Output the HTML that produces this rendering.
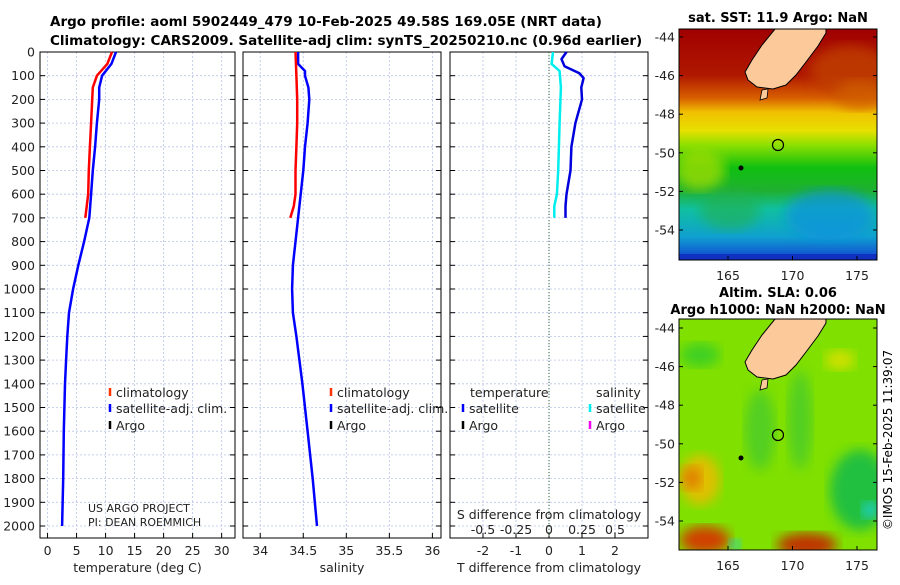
<!DOCTYPE html>
<html><head><meta charset="utf-8"><style>
body{margin:0;background:#fff;width:900px;height:580px;overflow:hidden;font-family:"Liberation Sans","DejaVu Sans",sans-serif}
svg text{font-family:"DejaVu Sans","Liberation Sans",sans-serif}
</style></head><body>
<svg id="c" width="900" height="580" xmlns="http://www.w3.org/2000/svg">
<defs>
<linearGradient id="sstg" x1="0" y1="0" x2="0" y2="1">
<stop offset="0" stop-color="#a00000"/><stop offset="0.2" stop-color="#b01800"/><stop offset="0.3" stop-color="#d86000"/>
<stop offset="0.36" stop-color="#f0c000"/><stop offset="0.44" stop-color="#e8e000"/><stop offset="0.5" stop-color="#90e000"/>
<stop offset="0.6" stop-color="#10c010"/><stop offset="0.7" stop-color="#20b030"/><stop offset="0.78" stop-color="#10c0a0"/>
<stop offset="0.9" stop-color="#10a0d0"/><stop offset="1" stop-color="#1040d0"/></linearGradient>
<filter id="bl"><feGaussianBlur stdDeviation="6"/></filter>
<clipPath id="m1"><rect x="679" y="29" width="198" height="231"/></clipPath>
<clipPath id="m2"><rect x="679" y="319" width="198" height="231"/></clipPath>
</defs>
<text x="50" y="26" font-size="13.5" font-weight="bold">Argo profile: aoml 5902449_479 10-Feb-2025 49.58S 169.05E (NRT data)</text>
<text x="50" y="45" font-size="13.5" font-weight="bold">Climatology: CARS2009. Satellite-adj clim: synTS_20250210.nc (0.96d earlier)</text>
<g id="panels"></g>
<!-- map 1 -->
<g>
<text x="778" y="22" font-size="13" font-weight="bold" text-anchor="middle">sat. SST: 11.9 Argo: NaN</text>
<g clip-path="url(#m1)">
<rect x="679" y="29" width="198" height="231" fill="url(#sstg)"/>
<ellipse cx="850" cy="70" rx="40" ry="25" fill="#c04000" filter="url(#bl)" opacity="0.8"/>
<ellipse cx="860" cy="95" rx="25" ry="15" fill="#d06000" filter="url(#bl)" opacity="0.7"/>
<ellipse cx="700" cy="170" rx="25" ry="20" fill="#b0e000" filter="url(#bl)" opacity="0.7"/>
<ellipse cx="830" cy="215" rx="45" ry="25" fill="#1090e0" filter="url(#bl)" opacity="0.7"/>
<ellipse cx="730" cy="210" rx="30" ry="20" fill="#20b050" filter="url(#bl)" opacity="0.6"/>
<rect x="679" y="254" width="198" height="6" fill="#1030c0"/>
<polygon points="775,29 826,29 826,33 818,46 806,62 796,75 786,85 773,89 757,87 748,80 745,72 752,60 762,45" fill="#fbc99a" stroke="#000" stroke-width="1"/>
<polygon points="762,90 768,89 767,98 760,100" fill="#fbc99a" stroke="#000" stroke-width="0.8"/>
<circle cx="778" cy="145" r="5.5" fill="none" stroke="#000" stroke-width="1.2"/>
<circle cx="741" cy="168" r="2.5" fill="#000"/>
</g>
<rect x="679" y="29" width="198" height="231" fill="none" stroke="#000"/>
<g id="m1ax"></g>
</g>
<!-- map 2 -->
<g>
<text x="778" y="297" font-size="13" font-weight="bold" text-anchor="middle">Altim. SLA: 0.06</text>
<text x="778" y="314" font-size="13" font-weight="bold" text-anchor="middle">Argo h1000: NaN h2000: NaN</text>
<g clip-path="url(#m2)">
<rect x="679" y="319" width="198" height="231" fill="#80e000"/>
<ellipse cx="700" cy="355" rx="20" ry="12" fill="#40d020" filter="url(#bl)"/>
<ellipse cx="760" cy="430" rx="15" ry="40" fill="#40c830" filter="url(#bl)" opacity="0.7"/>
<ellipse cx="800" cy="420" rx="12" ry="50" fill="#40c830" filter="url(#bl)" opacity="0.7"/>
<ellipse cx="860" cy="490" rx="30" ry="40" fill="#20c040" filter="url(#bl)"/>
<ellipse cx="870" cy="510" rx="8" ry="8" fill="#20d0d0" filter="url(#bl)"/>
<ellipse cx="700" cy="480" rx="20" ry="25" fill="#e0c000" filter="url(#bl)"/>
<ellipse cx="692" cy="478" rx="10" ry="12" fill="#e08000" filter="url(#bl)"/>
<ellipse cx="705" cy="540" rx="25" ry="14" fill="#d04000" filter="url(#bl)"/>
<ellipse cx="807" cy="545" rx="30" ry="12" fill="#c03000" filter="url(#bl)"/>
<ellipse cx="840" cy="360" rx="15" ry="10" fill="#d0e000" filter="url(#bl)"/>
<ellipse cx="735" cy="545" rx="6" ry="6" fill="#20d0d0" filter="url(#bl)"/>
<polygon points="775,319 826,319 826,323 818,336 806,352 796,365 786,375 773,379 757,377 748,370 745,362 752,350 762,335" fill="#fbc99a" stroke="#000" stroke-width="1"/>
<polygon points="762,380 768,379 767,388 760,390" fill="#fbc99a" stroke="#000" stroke-width="0.8"/>
<circle cx="778" cy="435" r="5.5" fill="none" stroke="#000" stroke-width="1.2"/>
<circle cx="741" cy="458" r="2.5" fill="#000"/>
</g>
<rect x="679" y="319" width="198" height="231" fill="none" stroke="#000"/>
<g id="m2ax"></g>
</g>
<text transform="translate(892,440) rotate(-90)" font-size="12" text-anchor="middle">©IMOS 15-Feb-2025 11:39:07</text>
</svg>
<script>
// data
const depthTicks=[0,100,200,300,400,500,600,700,800,900,1000,1100,1200,1300,1400,1500,1600,1700,1800,1900,2000];
const climDepth=[0,50,100,150,200,300,400,500,600,700];
const climTemp=[11.1,10.3,8.5,7.8,7.7,7.5,7.3,7.1,7.0,6.5];
const satDepth=[0,50,100,150,200,300,400,500,600,700,800,900,1000,1100,1200,1300,1400,1600,1800,2000];
const satTemp=[11.8,11.0,9.4,8.9,8.9,8.5,8.2,7.8,7.5,7.2,6.3,5.3,4.4,3.7,3.4,3.2,3.0,2.8,2.7,2.5];
const climSalDepth=[0,100,200,300,400,500,600,650,700];
const climSal=[34.41,34.42,34.43,34.43,34.42,34.41,34.41,34.39,34.35];
const satSal=[34.44,34.44,34.52,34.52,34.56,34.57,34.55,34.52,34.50,34.47,34.44,34.41,34.38,34.37,34.38,34.42,34.49,34.55,34.61,34.66];
const satSalDepth=[0,50,80,100,150,200,300,400,500,600,700,800,900,1000,1100,1200,1400,1600,1800,2000];
const dTDepth=[0,30,60,90,110,150,200,300,400,500,600,650,700];
const dTemp=[0.53,0.38,0.47,0.92,1.05,0.98,1.0,0.8,0.68,0.65,0.53,0.5,0.5];
const dSDepth=[0,50,80,150,300,500,600,650,700];
const dSal=[0.03,0.02,0.08,0.09,0.08,0.07,0.06,0.04,0.04];
const tTicks=[0,5,10,15,20,25,30];
const sTicks=[34,34.5,35,35.5,36];
const dtTicks=[-2,-1,0,1,2];
const dsTicks=['-0.5','-0.25','0','0.25','0.5'];
const latTicks=[-44,-46,-48,-50,-52,-54];
const lonTicks=[165,170,175];

const NS='http://www.w3.org/2000/svg';
const P=document.getElementById('panels');
function mk(tag,at,par){const e=document.createElementNS(NS,tag);for(const k in at)e.setAttribute(k,at[k]);(par||P).appendChild(e);return e;}
const Y0=52,Y1=526;
const yD=d=>Y0+(Y1-Y0)*d/2000;
const panels=[
 {x0:40,x1:235,v0:-1.3,v1:32.3,ticks:tTicks,label:'temperature (deg C)',name:'temperature'},
 {x0:243,x1:441,v0:33.8,v1:36.1,ticks:sTicks,label:'salinity',name:'salinity'},
 {x0:450,x1:648,v0:-3,v1:3,ticks:dtTicks,label:'T difference from climatology',name:'difference'}];
panels.forEach((p,i)=>{
 p.sx=v=>p.x0+(p.x1-p.x0)*(v-p.v0)/(p.v1-p.v0);
 const g=mk('g',{});
 
 
 depthTicks.forEach(d=>{
  mk('line',{x1:p.x0,x2:p.x1,y1:yD(d),y2:yD(d),stroke:'#b8c4e8','stroke-width':0.8,'stroke-dasharray':'2,2'},g);
  mk('line',{x1:p.x0,x2:p.x0+5,y1:yD(d),y2:yD(d),stroke:'#000'},g);
  mk('line',{x1:p.x1-5,x2:p.x1,y1:yD(d),y2:yD(d),stroke:'#000'},g);
  if(i==0){const t=mk('text',{x:35,y:yD(d)+4.5,'font-size':12.5,'text-anchor':'end',fill:'#222'},g);t.textContent=d;}
 });
 p.ticks.forEach(v=>{
  const x=p.sx(v);
  mk('line',{x1:x,x2:x,y1:Y0-0,y2:Y1+14,stroke:'#b8c4e8','stroke-width':0.8,'stroke-dasharray':'2,2'},g);
  mk('line',{x1:x,x2:x,y1:533,y2:538,stroke:'#000'},g);
  const t=mk('text',{x:x,y:555,'font-size':12.5,'text-anchor':'middle',fill:'#222'},g);t.textContent=v;
 });
 mk('rect',{x:p.x0,y:Y0,width:p.x1-p.x0,height:538-Y0,fill:'none',stroke:'#000','stroke-width':1},g);
 const t=mk('text',{x:(p.x0+p.x1)/2,y:572,'font-size':12.5,'text-anchor':'middle',fill:'#222'},g);t.textContent=p.label;
 p.g=g;
});
function line(p,vals,deps,col,w,name){
 const pts=vals.map((v,k)=>p.sx(v).toFixed(1)+','+yD(deps[k]).toFixed(1)).join(' ');
 const e=mk('polyline',{points:pts,fill:'none',stroke:col,'stroke-width':w,'stroke-linejoin':'round'},p.g);
 
 
}
line(panels[0],satTemp,satDepth,'#0000ff',2.5,'satellite-temp-line');
line(panels[0],climTemp,climDepth,'#ff0000',2.5,'climatology-temp-line');
line(panels[1],satSal,satSalDepth,'#0000ff',2.5,'satellite-salinity-line');
line(panels[1],climSal,climSalDepth,'#ff0000',2.5,'climatology-salinity-line');
const p3=panels[2];
mk('line',{x1:p3.sx(0),x2:p3.sx(0),y1:Y0,y2:538,stroke:'#336633','stroke-width':1,'stroke-dasharray':'1,2'},p3.g);
line(p3,dSal.map(v=>v*4),dSDepth,'#00eeee',2.5,'salinity-diff-line');
line(p3,dTemp,dTDepth,'#0000dd',2.5,'temperature-diff-line');
// top S axis labels
dsTicks.forEach((s,k)=>{const x=p3.sx(dtTicks[k]);const t=mk('text',{x:x,y:534,'font-size':12.5,'text-anchor':'middle',fill:'#222'},p3.g);t.textContent=s;});
{const t=mk('text',{x:549,y:519,'font-size':12.5,'text-anchor':'middle',fill:'#222'},p3.g);t.textContent='S difference from climatology';
 }
// legends
function leg(x,y,col,txt,g){mk('line',{x1:x,x2:x,y1:y-9,y2:y-1,stroke:col,'stroke-width':2.5},g);const t=mk('text',{x:x+6,y:y,'font-size':12.5,fill:'#222'},g);t.textContent=txt;}
[[panels[0],110],[panels[1],331]].forEach(([p,x])=>{
 const g=mk('g',{},p.g);
 leg(x,397,'#ff3300','climatology',g);leg(x,413,'#0000ff','satellite-adj. clim.',g);leg(x,430,'#000','Argo',g);
});
{const g=mk('g',{},p3.g);
 let t=mk('text',{x:470,y:397,'font-size':12.5,fill:'#222'},g);t.textContent='temperature';
 t=mk('text',{x:596,y:397,'font-size':12.5,fill:'#222'},g);t.textContent='salinity';
 leg(463,413,'#0000ff','satellite',g);leg(463,430,'#000','Argo',g);
 leg(590,413,'#00eeee','satellite',g);leg(590,430,'#ee00ee','Argo',g);}
{let t=mk('text',{x:88,y:512,'font-size':11,fill:'#222'},panels[0].g);t.textContent='US ARGO PROJECT';
 
 t=mk('text',{x:88,y:526,'font-size':11,fill:'#222'},panels[0].g);t.textContent='PI: DEAN ROEMMICH';
 }
// map axes
function mapAx(gid,ytop,lat44){
 const g=document.getElementById(gid);
 const ly=l=>lat44+(-44-l)*19.3;
 latTicks.forEach(l=>{const y=ly(l);
  mk('line',{x1:679,x2:683,y1:y,y2:y,stroke:'#000'},g);mk('line',{x1:873,x2:877,y1:y,y2:y,stroke:'#000'},g);
  const t=mk('text',{x:675,y:y+4.5,'font-size':12.5,'text-anchor':'end',fill:'#222'},g);t.textContent=l;});
 lonTicks.forEach(l=>{const x=728+(l-165)*12.9;
  mk('line',{x1:x,x2:x,y1:ytop+227,y2:ytop+231,stroke:'#000'},g);
  const t=mk('text',{x:x,y:ytop+251,'font-size':12.5,'text-anchor':'middle',fill:'#222'},g);t.textContent=l;});
}
mapAx('m1ax',29,37);
mapAx('m2ax',319,328);
</script>
</body></html>
